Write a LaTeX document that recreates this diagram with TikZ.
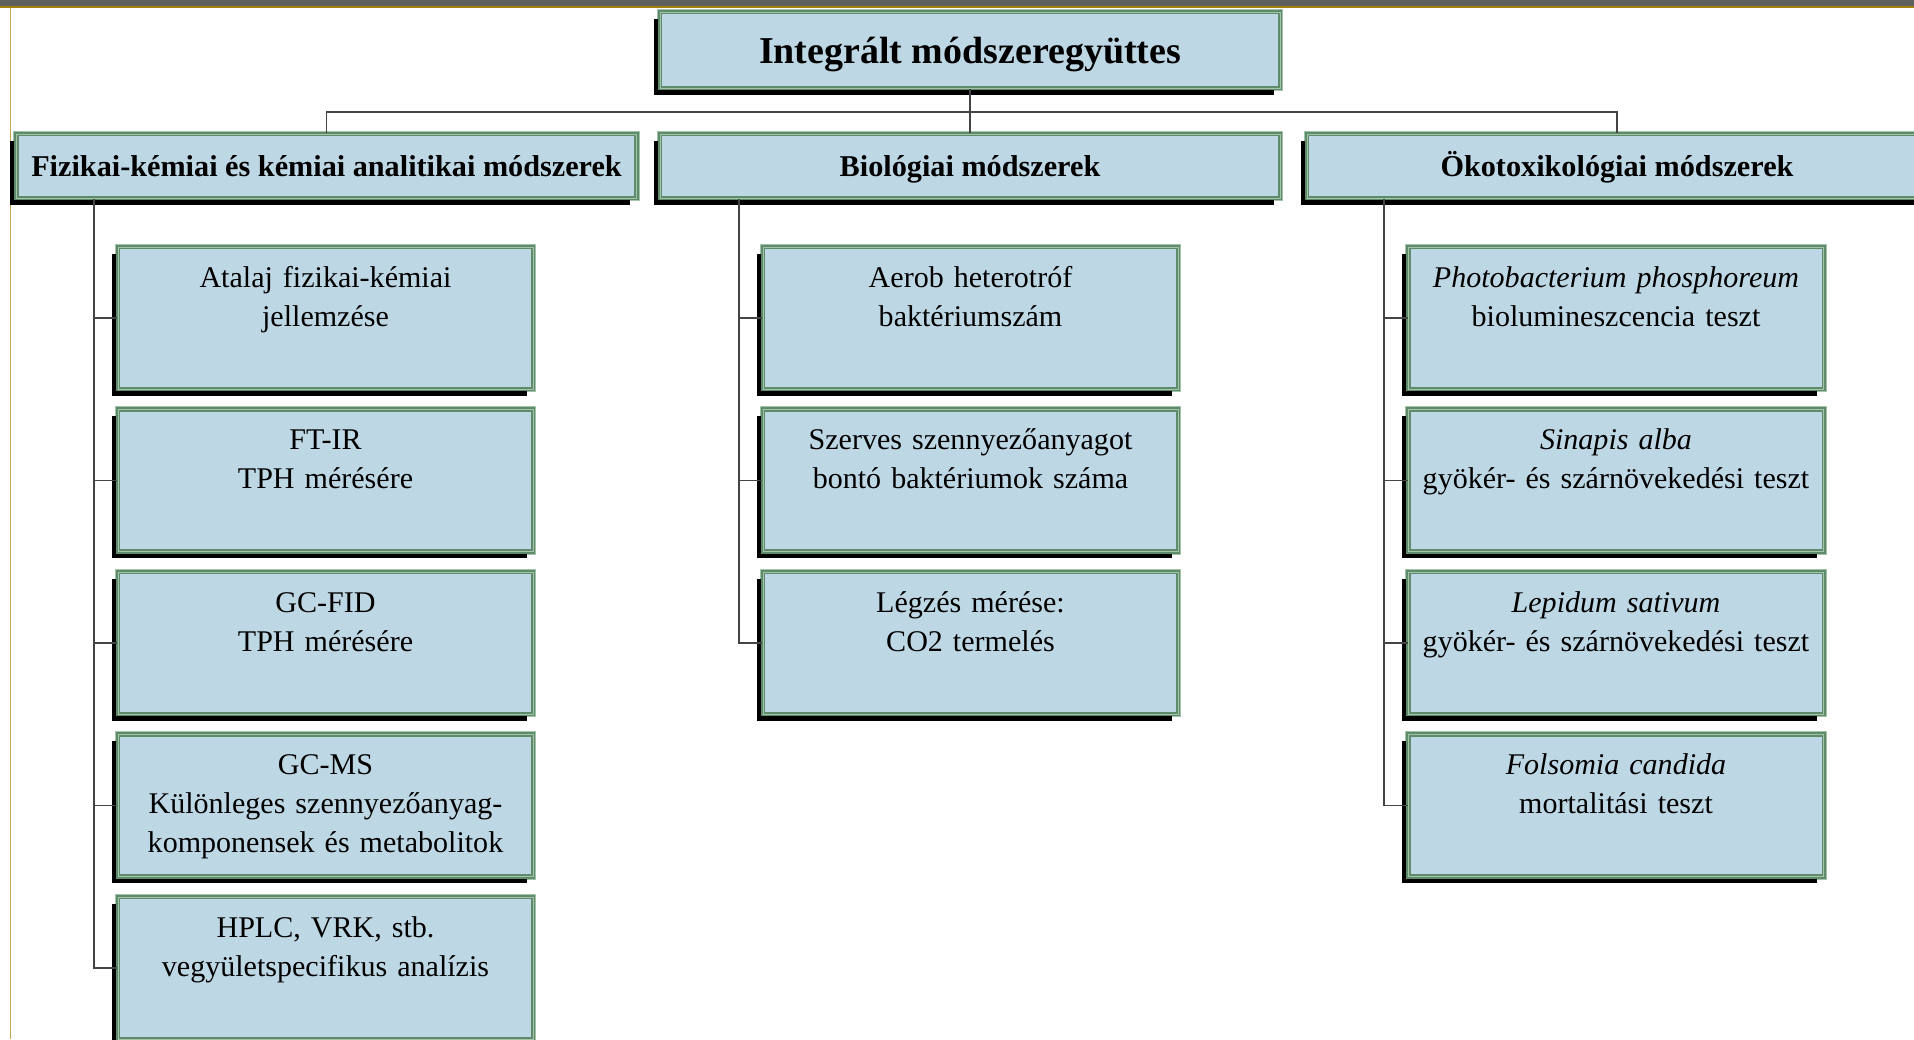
\documentclass[tikz,border=0pt]{standalone}
\usepackage{fontspec}
\setmainfont{Liberation Serif}
\usetikzlibrary{shadows}

\definecolor{boxfill}{HTML}{BED7E4}
\definecolor{boxgreen}{HTML}{5E8B6A}
\definecolor{boxpale}{HTML}{A3C4AB}
\definecolor{wiregray}{HTML}{444444}
\definecolor{bargray}{HTML}{5F5F5F}
\definecolor{bargold}{HTML}{A27E0C}
\definecolor{edgegold}{HTML}{C9A94E}

\def \colwidth {12.4cm}
\def \itemwidth {8.3cm}
\def \rowstep {3.25}

\tikzset{
  framed/.style={fill=boxfill, draw=boxgreen, line width=0.9pt, double=boxpale, double distance=0.5pt,
    preaction={draw=boxpale, line width=3.6pt},
    drop shadow={shadow xshift=-0.13cm, shadow yshift=-0.13cm, fill=black, opacity=1}},
  topbox/.style={framed, minimum width=\colwidth, inner sep=0pt,
    text height=1.02cm, text depth=0.5cm, font=\bfseries\fontsize{21.6}{25}\selectfont},
  headbox/.style={framed, minimum width=\colwidth, inner sep=0pt,
    text height=0.84cm, text depth=0.44cm, font=\bfseries\fontsize{17.2}{21}\selectfont},
  methodbox/.style={framed, text width=\itemwidth, align=center, inner sep=0pt,
    text height=0.8cm, text depth=2.04cm, font=\fontsize{17.1}{22.2}\selectfont},
  wire/.style={draw=wiregray, line width=0.75pt}
}

\begin{document}
\begin{tikzpicture}[x=1cm, y=-1cm]
\path[use as bounding box, clip] (0,0) rectangle (38.28,20.78);
\fill[bargray] (0,0) rectangle (38.28,0.12);
\fill[bargold] (0,0.12) rectangle (38.28,0.15);
\fill[edgegold] (0.2,0.15) rectangle (0.23,20.78);

\node[topbox] (top) at (19.40,1.00) {Integrált módszeregyüttes};

\node[headbox] (chem) at (6.53,3.32) {Fizikai-kémiai és kémiai analitikai módszerek};
\node[headbox] (bio) at (19.40,3.32) {Biológiai módszerek};
\node[headbox] (eco) at (32.34,3.32) {Ökotoxikológiai módszerek};

\coordinate (bus) at (0,2.24);
\coordinate (chemspine) at (1.88,0);
\coordinate (biospine) at (14.78,0);
\coordinate (ecospine) at (27.68,0);

\draw[wire] (top.south) -- (bio.north);
\draw[wire] (chem.north) -- (chem.north |- bus) -- (eco.north |- bus) -- (eco.north);

\node[methodbox] (chem1) at (6.51,6.36) {Atalaj fizikai-kémiai\\jellemzése};
\node[methodbox] (chem2) at (6.51,6.36+\rowstep) {FT-IR\\TPH mérésére};
\node[methodbox] (chem3) at (6.51,6.36+2*\rowstep) {GC-FID\\TPH mérésére};
\node[methodbox] (chem4) at (6.51,6.36+3*\rowstep) {GC-MS\\Különleges szennyezőanyag-\\komponensek és metabolitok};
\node[methodbox] (chem5) at (6.51,6.36+4*\rowstep) {HPLC, VRK, stb.\\vegyületspecifikus analízis};

\node[methodbox] (bio1) at (19.41,6.36) {Aerob heterotróf\\baktériumszám};
\node[methodbox] (bio2) at (19.41,6.36+\rowstep) {Szerves szennyezőanyagot\\bontó baktériumok száma};
\node[methodbox] (bio3) at (19.41,6.36+2*\rowstep) {Légzés mérése:\\CO2 termelés};

\node[methodbox] (eco1) at (32.32,6.36) {\textit{Photobacterium phosphoreum}\\biolumineszcencia teszt};
\node[methodbox] (eco2) at (32.32,6.36+\rowstep) {\textit{Sinapis alba}\\gyökér- és szárnövekedési teszt};
\node[methodbox] (eco3) at (32.32,6.36+2*\rowstep) {\textit{Lepidum sativum}\\gyökér- és szárnövekedési teszt};
\node[methodbox] (eco4) at (32.32,6.36+3*\rowstep) {\textit{Folsomia candida}\\mortalitási teszt};

\foreach \i in {1,...,5}
  \draw[wire] (chemspine |- chem.south) |- (chem\i.west);
\foreach \i in {1,...,3}
  \draw[wire] (biospine |- bio.south) |- (bio\i.west);
\foreach \i in {1,...,4}
  \draw[wire] (ecospine |- eco.south) |- (eco\i.west);
\end{tikzpicture}
\end{document}
